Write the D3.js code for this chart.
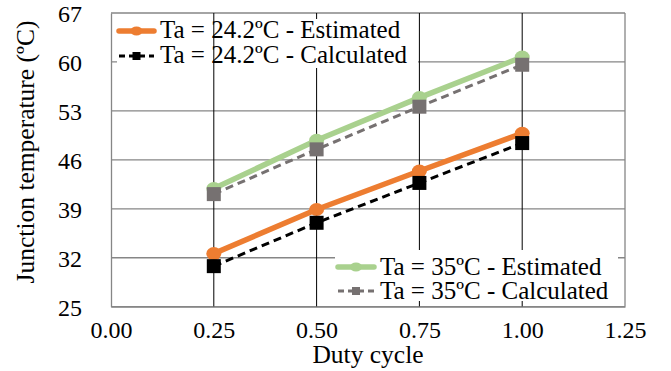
<!DOCTYPE html>
<html><head><meta charset="utf-8">
<script src="https://cdn.jsdelivr.net/npm/d3@7"></script>
<style>body{margin:0;background:#fff}svg text{font-family:"Liberation Serif","Times New Roman",serif;fill:#000}</style>
</head><body>
<svg id="c" width="671" height="371"></svg>
<script>
const duty = [0.25, 0.50, 0.75, 1.00];
const est24 = [32.6, 38.9, 44.4, 49.8];
const calc24 = [30.8, 37.0, 42.7, 48.4];
const est35 = [41.9, 48.8, 54.9, 60.7];
const calc35 = [41.1, 47.5, 53.6, 59.6];
const xTicks = [0, 0.25, 0.5, 0.75, 1.0, 1.25];
const yTicks = [25, 32, 39, 46, 53, 60, 67];
const names = ["Ta = 24.2ºC - Estimated", "Ta = 24.2ºC - Calculated", "Ta = 35ºC - Estimated", "Ta = 35ºC - Calculated"];

const FONT = "Liberation Serif";
const svg = d3.select("#c");
const L = 111, R = 625, T = 13, B = 306.7;
const x = d3.scaleLinear().domain([0, 1.25]).range([L, R]);
const y = d3.scaleLinear().domain([25, 67]).range([B, T]);
const gridC = "#868686";

// horizontal gridlines
svg.append("g").selectAll("line").data(yTicks).join("line")
  .attr("x1", L).attr("x2", R).attr("y1", d => y(d)).attr("y2", d => y(d))
  .attr("stroke", gridC).attr("stroke-width", 1.3);
// vertical lines (except first, drawn above legend 1)
svg.append("g").selectAll("line").data(duty.slice(1)).join("line")
  .attr("x1", d => x(d)).attr("x2", d => x(d)).attr("y1", T).attr("y2", B)
  .attr("stroke", "#000").attr("stroke-width", 1);
svg.append("line").attr("x1", R).attr("x2", R).attr("y1", T).attr("y2", B).attr("stroke", gridC).attr("stroke-width", 1.3);

// legend 1 background
svg.append("rect").attr("x", 117).attr("y", 19).attr("width", 301).attr("height", 49).attr("fill", "#fff");
svg.append("line").attr("x1", x(duty[0])).attr("x2", x(duty[0])).attr("y1", T).attr("y2", B)
  .attr("stroke", "#000").attr("stroke-width", 1);

// axes
const fs = 24;
const yAxis = svg.append("g").attr("transform", `translate(${L},0)`)
  .call(d3.axisLeft(y).tickValues(yTicks).tickSize(0).tickPadding(29).tickFormat(d3.format("d")));
yAxis.attr("font-family", FONT);
yAxis.select(".domain").attr("stroke", gridC).attr("stroke-width", 1.3);
yAxis.selectAll("text").attr("font-size", fs).attr("font-family", FONT).attr("dy", "0.36em");
const xAxis = svg.append("g").attr("transform", `translate(0,${B})`)
  .call(d3.axisBottom(x).tickValues(xTicks).tickSize(0).tickPadding(14).tickFormat(d3.format(".2f")));
xAxis.attr("font-family", FONT);
xAxis.select(".domain").attr("stroke", gridC).attr("stroke-width", 1.3);
xAxis.selectAll("text").attr("font-size", fs).attr("font-family", FONT).attr("dy", "0.71em");

// axis titles
svg.append("text").attr("x", 368).attr("y", 363).attr("text-anchor", "middle")
  .attr("font-family", FONT).attr("font-size", 25.5).text("Duty cycle");
svg.append("text").attr("transform", "translate(34,152) rotate(-90)").attr("text-anchor", "middle")
  .attr("font-family", FONT).attr("font-size", 25.5).text("Junction temperature (ºC)");

const series = [
  {v: est24, c: "#ED7D31", w: 5.5, dash: null, m: "circle"},
  {v: calc24, c: "#000000", w: 3, dash: "8,5", m: "square"},
  {v: est35, c: "#A9D18E", w: 5.5, dash: null, m: "circle"},
  {v: calc35, c: "#767171", w: 3, dash: "8,5", m: "square"}
];
const line = d3.line().x((d, i) => x(duty[i])).y(d => y(d));
[2, 3, 0, 1].forEach(k => {
  const s = series[k];
  const g = svg.append("g");
  g.append("path").datum(s.v).attr("d", line).attr("fill", "none")
    .attr("stroke", s.c).attr("stroke-width", s.w).attr("stroke-dasharray", s.dash);
  if (s.m === "circle") {
    g.selectAll("ellipse").data(s.v).join("ellipse")
      .attr("cx", (d, i) => x(duty[i])).attr("cy", d => y(d)).attr("rx", 7.5).attr("ry", 6.5).attr("fill", s.c);
  } else {
    g.selectAll("rect").data(s.v).join("rect")
      .attr("x", (d, i) => x(duty[i]) - 7).attr("y", d => y(d) - 7).attr("width", 14).attr("height", 14).attr("fill", s.c);
  }
});

// legend 2 background
svg.append("rect").attr("x", 335).attr("y", 250).attr("width", 283).attr("height", 51).attr("fill", "#fff");

function legendRow(s, name, x0, x1, ly, tx, tb) {
  const g = svg.append("g");
  g.append("line").attr("x1", x0).attr("x2", x1).attr("y1", ly).attr("y2", ly)
    .attr("stroke", s.c).attr("stroke-width", s.w).attr("stroke-dasharray", s.dash ? "6,4" : null)
    .attr("stroke-linecap", s.dash ? "butt" : "round");
  const cx = (x0 + x1) / 2;
  if (s.m === "circle") g.append("ellipse").attr("cx", cx).attr("cy", ly).attr("rx", 6).attr("ry", 4.5).attr("fill", s.c);
  else g.append("rect").attr("x", cx - 4).attr("y", ly - 4).attr("width", 8).attr("height", 8).attr("fill", s.c);
  g.append("text").attr("x", tx).attr("y", tb).attr("font-family", FONT).attr("font-size", 25).text(name);
}
legendRow(series[0], names[0], 119, 154, 31, 160, 38);
legendRow(series[1], names[1], 119, 154, 56, 160, 63);
legendRow(series[2], names[2], 338, 374, 267, 380, 275);
legendRow(series[3], names[3], 338, 374, 291, 380, 299);
</script>
</body></html>
